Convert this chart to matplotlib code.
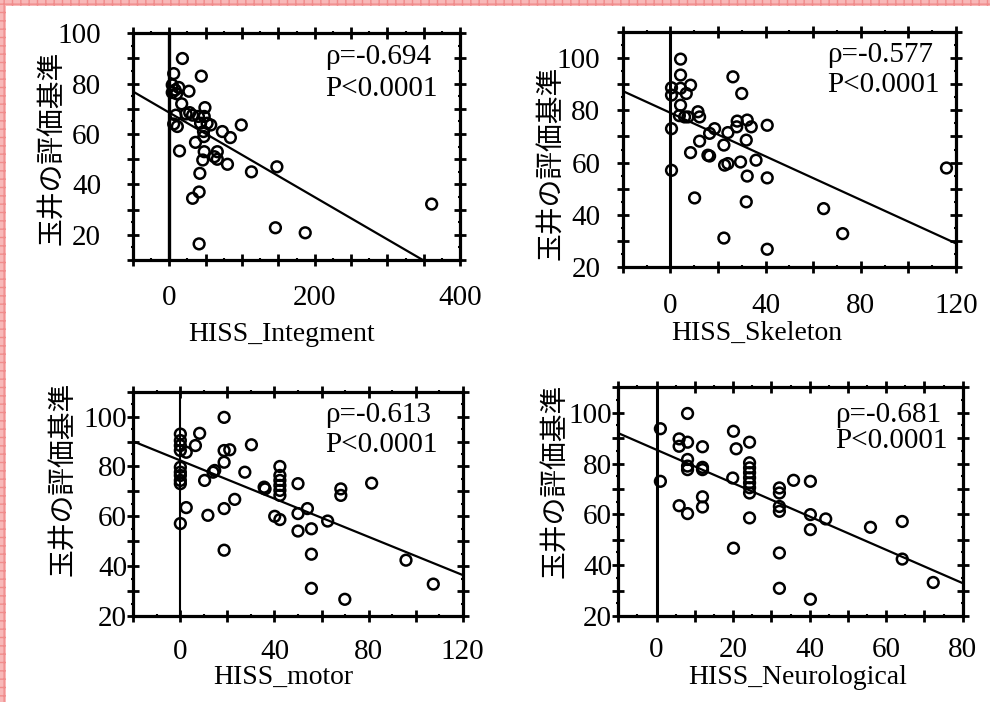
import matplotlib
matplotlib.use("Agg")
import matplotlib.pyplot as plt
from matplotlib.ticker import MultipleLocator, FuncFormatter
from matplotlib.patches import Rectangle

# ---------------- data ----------------
integ_x = [18, 6, 44, 4, 8, 4, 13, 10, 27, 17, 49, 9, 23, 28, 32, 40, 48, 52, 57, 11,
           6, 47, 73, 84, 99, 36, 14, 48, 46, 66, 66, 62, 80, 113, 42, 41, 32, 148, 41, 146,
           187, 361, 43, 47.5]
integ_y = [90, 84, 83, 79.5, 77.5, 76.5, 78.5, 76, 77, 72, 70.5, 67.5, 68, 68.5, 67.5, 67, 67, 64.3, 63.6, 63,
           64, 61, 61, 58.6, 63.6, 56.7, 53.3, 53, 49.7, 53, 50, 51, 48, 45, 44.4, 37, 34.5, 47, 16.4, 22.8,
           20.8, 32.2, 64.3, 59]

skel_x = [4.3, 4.3, 8.5, 0.5, 0.5, 4.3, 6.7, 4.3, 3.8, 6, 7.4, 11.6, 12.3, 0.5, 18.6, 16.5, 12.3, 8.5,
          15.8, 16.5, 24.2, 28.1, 32.3, 34, 40.7, 26.3, 30, 22.5, 31.9, 22.8, 24.2, 29.5, 36, 32.3,
          40.7, 0.5, 10.2, 31.9, 22.5, 40.7, 64.4, 72.4, 116, 27.9]
skel_y = [99.7, 93.6, 89.7, 88.7, 85.9, 88.5, 86.5, 82, 78, 77.5, 77.5, 79.5, 77.5, 73, 73, 71.2, 68.2, 63.8,
          62.8, 62.5, 71.5, 75.9, 76.3, 73.7, 74.3, 92.9, 86.5, 66.7, 68.6, 59, 59.6, 60.2, 60.9, 54.8,
          54.1, 57, 46.4, 44.9, 31, 26.7, 42.3, 32.7, 57.9, 73.7]

motor_x = [18.6, 0, 0, 0, 0, 2.5, 6.4, 8.2, 0, 0, 0, 0, 0, 18.6, 21, 18.6, 30.2, 10.3, 13.9, 14.6,
           27.4, 35.6, 36, 42.3, 42.3, 42.3, 42.3, 42.3, 42.3, 50, 68.2, 68.2, 2.5, 23.1, 18.6, 11.7,
           0, 40.1, 42.3, 50, 54, 50, 55.7, 62.6, 18.6, 55.7, 55.7, 69.9, 81.3, 95.9, 107.5]
motor_y = [99.7, 93, 90.4, 88.4, 86.4, 85.7, 88.4, 93.3, 79.7, 77.7, 76.4, 74.4, 73.1, 86.4, 86.7, 81.7,
           88.7, 74.4, 77.7, 78.4, 77.7, 71.7, 71, 80, 76.4, 74.4, 72.4, 70.4, 68.4, 73.1, 71, 68.4, 63.5,
           66.8, 63.1, 60.4, 57.1, 60, 58.7, 61.1, 63.1, 54.1, 55, 58.1, 46.4, 44.8, 31.1, 26.7, 73.3,
           42.4, 32.8]

neuro_x = [8.1, 1, 1, 5.9, 5.9, 8.1, 12, 8.1, 8.1, 12, 12, 8.1, 20.1, 20.8, 24.3, 19.9, 24.3, 24.3,
           24.3, 24.3, 24.3, 24.3, 24.3, 35.8, 40.2, 32.1, 32.1, 32.1, 32.1, 5.9, 8.1, 12, 12, 24.3,
           40.2, 40.2, 44.2, 20.1, 32.1, 32.1, 40.2, 55.9, 64.2, 64.2, 72.3]
neuro_y = [99.7, 93.7, 73, 89.7, 86.8, 88.4, 86.6, 81.6, 77.6, 77.6, 78.5, 79, 92.7, 85.8, 88.4, 74.3,
           80.3, 78.3, 76.4, 74.4, 72.4, 70.5, 68.4, 73.4, 73, 70.4, 68.4, 63.1, 61.2, 63.4, 60.3, 66.9,
           62.9, 58.6, 59.9, 54, 58.2, 46.7, 44.8, 30.9, 26.6, 54.9, 57.2, 42.4, 33.2]

x_labels = ["HISS_Integment", "HISS_Skeleton", "HISS_motor", "HISS_Neurological"]
y_label = "玉井の評価基準"
rho_texts = ["ρ=-0.694", "ρ=-0.577", "ρ=-0.613", "ρ=-0.681"]
p_text = "P<0.0001"
fit_intercepts = [68.5, 79.1, 82.4, 85.4]
fit_slopes = [-0.1677, -0.418, -0.383, -0.656]

xs = [integ_x, skel_x, motor_x, neuro_x]
ys = [integ_y, skel_y, motor_y, neuro_y]

# ---------------- layout ----------------
W, H = 990, 702
fig = plt.figure(figsize=(W / 100, H / 100), dpi=100)
fig.patch.set_facecolor("white")

def fx(px):
    return px / W

def fy(py):
    return 1 - py / H

# axes boxes in pixels: left, right, top, bottom
boxes = [(133, 460, 33.3, 260), (622.7, 956, 32.3, 266.7),
         (133.3, 462.7, 391.7, 616), (618.3, 962.7, 387.3, 616)]
xlims = [(-50, 400), (-20, 120), (-20, 120), (-10, 80)]
ylims = [(10, 100), (20, 110), (20, 110), (20, 110)]
x_major = [50, 20, 20, 10]
x_minor = [25, 10, 10, 5]
x_labstep = [200, 40, 40, 20]
x_pad = [14, 15, 12.5, 11]
y_pad = [19, 12, 0.5, 0.5]
vline_w = [2.4, 2.2, 1.5, 2.2]
xlabel_pos = [(282, 335), (757, 333), (283, 677), (798, 677)]
ylabel_pos = [(51.7, 147.5), (550, 163), (62.5, 479), (554, 481)]
rho_pos = [(325, 57, 89), (826.7, 55, 85), (325, 415, 445), (835, 415, 441)]

serif = "Liberation Serif"

for i in range(4):
    l, r, t, b = boxes[i]
    ax = fig.add_axes([fx(l), fy(b), (r - l) / W, (b - t) / H])
    ax.set_xlim(*xlims[i])
    ax.set_ylim(*ylims[i])
    ax.scatter(xs[i], ys[i], s=60, facecolors="none", edgecolors="black",
               linewidths=1.8, zorder=3)
    ax.axvline(0, color="black", lw=vline_w[i], zorder=2)
    ax.axline((0, fit_intercepts[i]), slope=fit_slopes[i], color="black", lw=1.6, zorder=2)

    for s in ax.spines.values():
        s.set_linewidth(2.3)
    ax.xaxis.set_major_locator(MultipleLocator(x_major[i]))
    ax.xaxis.set_minor_locator(MultipleLocator(x_minor[i]))
    ax.yaxis.set_major_locator(MultipleLocator(10))
    ax.yaxis.set_minor_locator(MultipleLocator(5))
    step = x_labstep[i]
    ax.xaxis.set_major_formatter(FuncFormatter(
        lambda v, p, step=step: f"{int(round(v))}" if abs(v / step - round(v / step)) < 1e-6 else ""))
    ax.yaxis.set_major_formatter(FuncFormatter(
        lambda v, p: f"{int(round(v))}" if abs(v / 20 - round(v / 20)) < 1e-6 else ""))
    ax.tick_params(which="major", direction="inout", length=8, width=2,
                   top=True, right=True, labelsize=21)
    ax.tick_params(which="minor", direction="inout", length=3, width=1.5,
                   top=True, right=True)
    ax.tick_params(axis="x", which="major", pad=x_pad[i])
    ax.tick_params(axis="y", which="major", pad=y_pad[i])
    for lab in ax.get_xticklabels() + ax.get_yticklabels():
        lab.set_fontfamily(serif)

    fig.text(fx(xlabel_pos[i][0]), fy(xlabel_pos[i][1]), x_labels[i],
             ha="center", va="center", fontsize=20, family=serif)
    fig.text(fx(ylabel_pos[i][0]), fy(ylabel_pos[i][1]), y_label, rotation=90,
             ha="center", va="center", fontsize=20,
             family=["Noto Sans CJK JP", "DejaVu Sans"])
    rx, ry1, ry2 = rho_pos[i]
    fig.text(fx(rx), fy(ry1), rho_texts[i], ha="left", va="center",
             fontsize=21, family=serif)
    fig.text(fx(rx), fy(ry2), p_text, ha="left", va="center",
             fontsize=21, family=serif)

# pink dotted frame at left and top
fig.patches.append(Rectangle((0, 0), 6 / W, 1, transform=fig.transFigure,
                             facecolor="#f8b8b8", edgecolor="#f08c8c", hatch="++",
                             lw=0, zorder=10))
fig.patches.append(Rectangle((0, 1 - 6 / H), 1, 6 / H, transform=fig.transFigure,
                             facecolor="#f8b8b8", edgecolor="#f08c8c", hatch="++",
                             lw=0, zorder=10))

fig.savefig("out.png", dpi=100)
